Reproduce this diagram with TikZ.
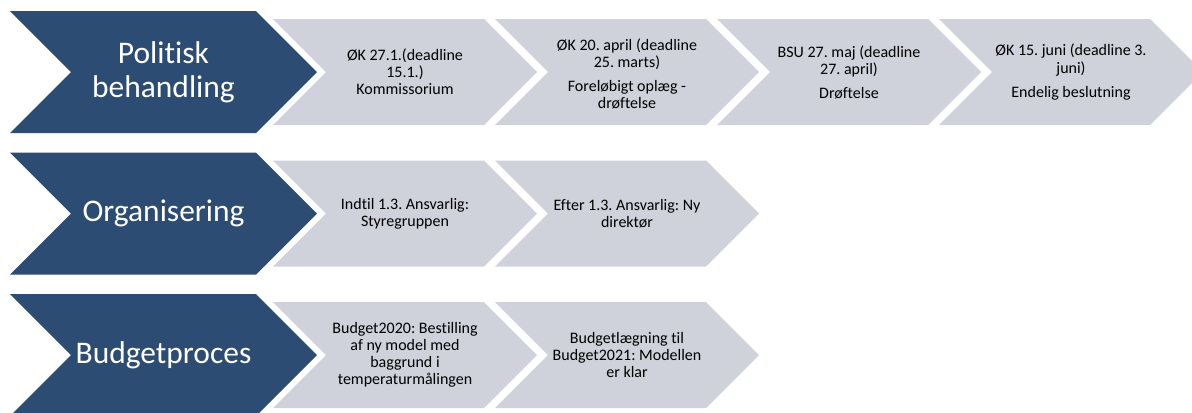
\documentclass[tikz,border=0pt]{standalone}
\usepackage{fontspec}
\setmainfont{Carlito}[Ligatures=NoCommon]
\frenchspacing
\definecolor{morkblaa}{RGB}{44,76,116}
\definecolor{lysgraa}{RGB}{207,210,218}
\tikzset{
  morkpil/.style={fill=morkblaa},
  graapil/.style={fill=lysgraa},
  morktekst/.style={text=white,align=center,inner sep=0pt,font=\fontsize{23.6}{25.5}\selectfont},
  graatekst/.style={text=black,align=center,inner sep=0pt,font=\fontsize{12}{12.9}\selectfont}
}
% pil: venstre kant, midte, bredde, halv hoejde
\newcommand{\chevron}[4]{(#1,#2-#4) -- ++(#3,0) -- ++(#4,#4) -- ++(-#4,#4) -- ++(-#3,0) -- ++(#4,-#4) -- cycle}
\begin{document}
\begin{tikzpicture}[x=0.75pt,y=-0.75pt]
		\useasboundingbox (0,0) rectangle (1192,412);
		\clip (0,0) rectangle (1192,412);
		% Politisk behandling
		\fill[morkpil] \chevron{10}{72}{246}{61};
		\node[morktekst] (politisk) at (163.5,72) {Politisk\\behandling};
		\fill[graapil] \chevron{273}{72}{211}{53};
		\node[graatekst] (ok1) at (405,72) {ØK 27.1.(deadline\\15.1.)\\Kommissorium};
		\fill[graapil] \chevron{495}{72}{211}{53};
		\node[graatekst] (ok2) at (627,74) {ØK 20. april (deadline\\25. marts)\\[5pt]Foreløbigt oplæg -\\drøftelse};
		\fill[graapil] \chevron{717}{72}{211}{53};
		\node[graatekst] (bsu) at (849,72) {BSU 27. maj (deadline\\27. april)\\[5pt]Drøftelse};
		\fill[graapil] \chevron{939}{72}{211}{53};
		\node[graatekst] (ok3) at (1071,72) {ØK 15. juni (deadline 3.\\juni)\\[5pt]Endelig beslutning};
		% Organisering
		\fill[morkpil] \chevron{10}{213.5}{246}{61};
		\node[morktekst] (organisering) at (163.5,213.5) {Organisering};
		\fill[graapil] \chevron{273}{213.5}{211}{53};
		\node[graatekst] (indtil) at (405,213.5) {Indtil 1.3. Ansvarlig:\\Styregruppen};
		\fill[graapil] \chevron{495}{213.5}{211}{53};
		\node[graatekst] (efter) at (627,213.5) {Efter 1.3. Ansvarlig: Ny\\direktør};
		% Budgetproces
		\fill[morkpil] \chevron{10}{355}{246}{61};
		\node[morktekst] (budgetproces) at (163.5,355) {Budgetproces};
		\fill[graapil] \chevron{273}{355}{211}{53};
		\node[graatekst] (budget2020) at (405,355) {Budget2020: Bestilling\\af ny model med\\baggrund i\\temperaturmålingen};
		\fill[graapil] \chevron{495}{355}{211}{53};
		\node[graatekst] (budget2021) at (627,355) {Budgetlægning til\\Budget2021: Modellen\\er klar};
	\end{tikzpicture}
\end{document}
